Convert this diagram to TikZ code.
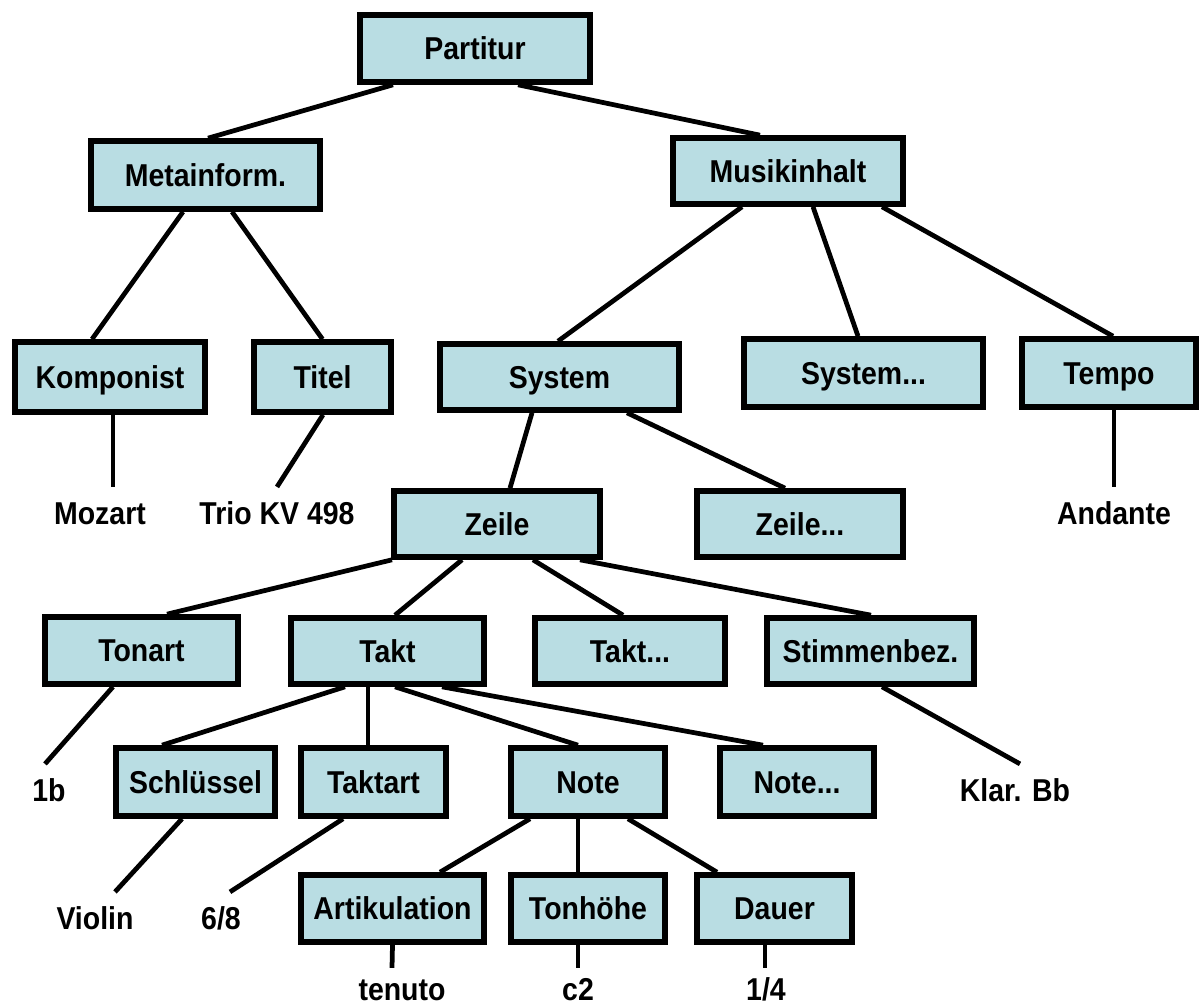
\documentclass[tikz,border=0pt]{standalone}
\usepackage{fontspec}
\setmainfont{Liberation Sans}[FakeStretch=0.9]
\usetikzlibrary{calc}
\definecolor{boxfill}{RGB}{185,221,227}
\begin{document}
\begin{tikzpicture}[x=0.02cm,y=-0.02cm,
  txt/.style={font=\fontsize{18}{20}\selectfont\bfseries, text height=12.9pt, text depth=0pt},
  box/.style n args={2}{txt, draw=black, line width=3.2pt, fill=boxfill, inner sep=0pt,
    minimum width={(#1-6)*0.02cm}, minimum height={(#2-6)*0.02cm}},
  leaf/.style={txt, inner xsep=0pt, inner ysep=0.3cm},
  lowleaf/.style={txt, inner xsep=0pt, inner ysep=0.2cm},
  conn/.style={line width=2.7pt}]
\useasboundingbox (0,0) rectangle (1200,1006);
% boxes
\node[box={236}{73}] (P)   at (475,48.5)  {Partitur};
\node[box={235}{74}] (M)   at (205.5,175) {Metainform.};
\node[box={236}{72}] (MI)  at (788,171)   {Musikinhalt};
\node[box={196}{76}] (K)   at (110,377)   {Komponist};
\node[box={143}{76}] (T)   at (322.5,377) {Titel};
\node[box={245}{72}] (S)   at (559.5,377) {System};
\node[box={245}{74}] (S2)  at (863.5,373) {System...};
\node[box={180}{74}] (TE)  at (1109,373)  {Tempo};
\node[box={212}{72}] (Z)   at (497,524)   {Zeile};
\node[box={212}{72}] (Z2)  at (800,524)   {Zeile...};
\node[box={199}{73}] (TO)  at (141.5,650.5) {Tonart};
\node[box={199}{72}] (TA)  at (387.5,651) {Takt};
\node[box={196}{72}] (TA2) at (630,651)   {Takt...};
\node[box={213}{72}] (SB)  at (870.5,651) {Stimmenbez.};
\node[box={165}{74}] (SC)  at (195.5,782) {Schlüssel};
\node[box={151}{74}] (TT)  at (373.5,782) {Taktart};
\node[box={160}{74}] (N)   at (588,782)   {Note};
\node[box={160}{74}] (N2)  at (797,782)   {Note...};
\node[box={189}{73}] (AR)  at (392.5,908.5) {Artikulation};
\node[box={160}{73}] (TH)  at (588,908.5) {Tonhöhe};
\node[box={161}{73}] (D)   at (774.5,908.5) {Dauer};
% leaves
\node[leaf] (moz)  at (100,513.6)  {Mozart};
\node[leaf] (trio) at (277,513.6)  {Trio KV 498};
\node[leaf] (and)  at (1114,513.6) {Andante};
\node[leaf] (oneb) at (49,790.6)   {1b};
\node[leaf] (klar) at (1015,790.6) {Klar. Bb};
\node[leaf] (vio)  at (95,918.6)   {Violin};
\node[leaf] (sixe) at (221,918.6)  {6/8};
\node[lowleaf] (ten) at (402,989.6) {tenuto};
\node[lowleaf] (ctwo) at (578,989.6) {c2};
\node[lowleaf] (quar) at (766,989.6) {1/4};
% connectors
\draw[conn] ($(P.south)+(-82,0)$)   -- ($(M.north)+(2.5,0)$);
\draw[conn] ($(P.south)+(43,0)$)    -- ($(MI.north)+(-28,0)$);
\draw[conn] ($(M.south)+(-22.5,0)$) -- ($(K.north)+(-18,0)$);
\draw[conn] ($(M.south)+(26.5,0)$)  -- (T.north);
\draw[conn] ($(MI.south)+(-46,0)$)  -- ($(S.north)+(-1.5,0)$);
\draw[conn] ($(MI.south)+(25,0)$)   -- ($(S2.north)+(-5.5,0)$);
\draw[conn] ($(MI.south)+(94,0)$)   -- ($(TE.north)+(4,0)$);
\draw[conn] ($(K.south)+(3,0)$)     -- ($(moz.north)+(13,0)$);
\draw[conn] ($(T.south)+(0.5,0)$)   -- (trio.north);
\draw[conn] ($(TE.south)+(5,0)$)    -- (and.north);
\draw[conn] ($(S.south)+(-27.5,0)$) -- ($(Z.north)+(13,0)$);
\draw[conn] ($(S.south)+(67.5,0)$)  -- ($(Z2.north)+(-15,0)$);
\draw[conn] ($(Z.south)+(-105,0)$)  -- ($(TO.north)+(25.5,0)$);
\draw[conn] ($(Z.south)+(-35,0)$)   -- ($(TA.north)+(7.5,0)$);
\draw[conn] ($(Z.south)+(36,0)$)    -- ($(TA2.north)+(-7,0)$);
\draw[conn] ($(Z.south)+(83,0)$)    -- ($(SB.north)+(0.5,0)$);
\draw[conn] ($(TO.south)+(-28.5,0)$) -- ($(oneb.north)+(-4,0)$);
\draw[conn] ($(TA.south)+(-42.5,0)$) -- ($(SC.north)+(-33.5,0)$);
\draw[conn] ($(TA.south)+(-19.5,0)$) -- ($(TT.north)+(-5.5,0)$);
\draw[conn] ($(TA.south)+(7.5,0)$)   -- ($(N.north)+(-10,0)$);
\draw[conn] ($(TA.south)+(54.5,0)$)  -- ($(N2.north)+(-34,0)$);
\draw[conn] ($(SB.south)+(11.5,0)$)  -- ($(klar.north)+(5,0)$);
\draw[conn] ($(SC.south)+(-13.5,0)$) -- ($(vio.north)+(20,0)$);
\draw[conn] ($(TT.south)+(-30.5,0)$) -- ($(sixe.north)+(9,0)$);
\draw[conn] ($(N.south)+(-58,0)$)    -- ($(AR.north)+(47.5,0)$);
\draw[conn] ($(N.south)+(-10,0)$)    -- ($(TH.north)+(-10,0)$);
\draw[conn] ($(N.south)+(40,0)$)     -- ($(D.north)+(-57.5,0)$);
\draw[conn] (AR.south)               -- ($(ten.north)+(-10,0)$);
\draw[conn] ($(TH.south)+(-10,0)$)   -- (ctwo.north);
\draw[conn] ($(D.south)+(-9.5,0)$)   -- ($(quar.north)+(-1,0)$);
\end{tikzpicture}
\end{document}
